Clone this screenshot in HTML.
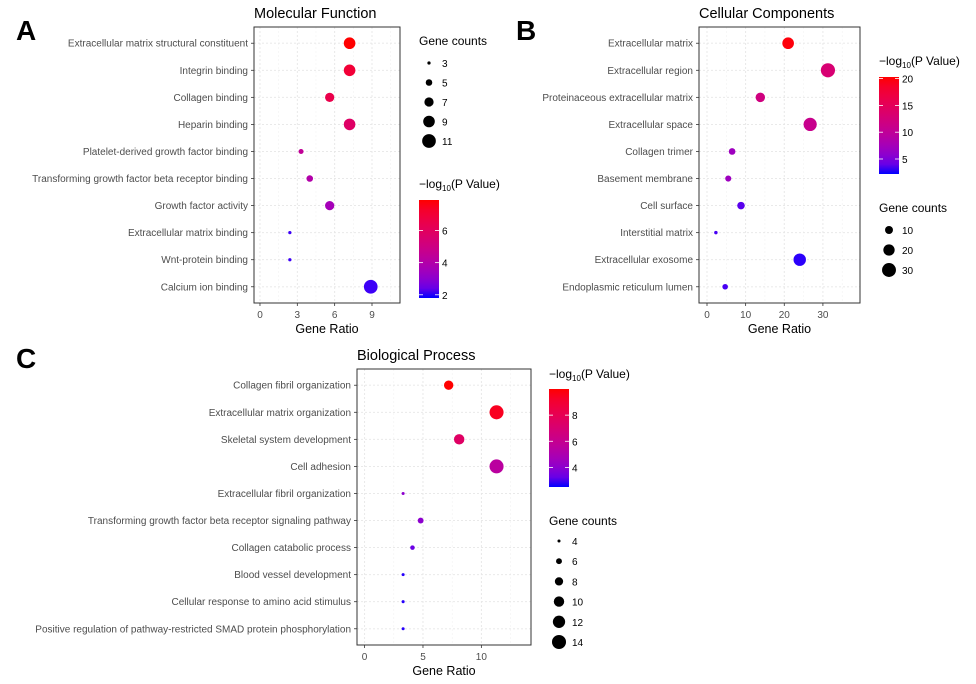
<!DOCTYPE html>
<html><head><meta charset="utf-8">
<style>
html,body{margin:0;padding:0;background:#fff;}
svg{display:block;font-family:"Liberation Sans",Arial,sans-serif;}
</style></head>
<body>
<svg id="fig" width="976" height="684" viewBox="0 0 976 684">
<text x="16" y="40" font-size="28" font-weight="bold" fill="#000">A</text>
<text x="516" y="40" font-size="28" font-weight="bold" fill="#000">B</text>
<text x="16" y="368" font-size="28" font-weight="bold" fill="#000">C</text>
</svg>
<script>
// ---- Panel A: Molecular Function ----
const mfTerms = ["Extracellular matrix structural constituent","Integrin binding","Collagen binding","Heparin binding","Platelet-derived growth factor binding","Transforming growth factor beta receptor binding","Growth factor activity","Extracellular matrix binding","Wnt-protein binding","Calcium ion binding"];
const mfRatio = [7.2,7.2,5.6,7.2,3.3,4.0,5.6,2.4,2.4,8.9];
const mfCount = [9,9,7,9,4,5,7,3,3,11];
const mfLogP = [7.9,7.0,6.5,5.8,4.5,4.0,3.6,2.0,2.0,2.0];
const mfXTicks = [0,3,6,9];
const mfCountBreaks = [3,5,7,9,11];
const mfColorBreaks = [2,4,6];

// ---- Panel B: Cellular Components ----
const ccTerms = ["Extracellular matrix","Extracellular region","Proteinaceous extracellular matrix","Extracellular space","Collagen trimer","Basement membrane","Cell surface","Interstitial matrix","Extracellular exosome","Endoplasmic reticulum lumen"];
const ccRatio = [21,31.3,13.8,26.7,6.5,5.5,8.8,2.3,24,4.7];
const ccCount = [21,31,14,27,7,6,9,2,24,5];
const ccLogP = [20,13,12,11,7,7,3.5,3,2.5,3];
const ccXTicks = [0,10,20,30];
const ccCountBreaks = [10,20,30];
const ccColorBreaks = [5,10,15,20];

// ---- Panel C: Biological Process ----
const bpTerms = ["Collagen fibril organization","Extracellular matrix organization","Skeletal system development","Cell adhesion","Extracellular fibril organization","Transforming growth factor beta receptor signaling pathway","Collagen catabolic process","Blood vessel development","Cellular response to amino acid stimulus","Positive regulation of pathway-restricted SMAD protein phosphorylation"];
const bpRatio = [7.2,11.3,8.1,11.3,3.3,4.8,4.1,3.3,3.3,3.3];
const bpCount = [9,14,10,14,4,6,5,4,4,4];
const bpLogP = [10,9.5,7.5,5.5,4,4,3.3,2.6,2.6,2.6];
const bpXTicks = [0,5,10];
const bpCountBreaks = [4,6,8,10,12,14];
const bpColorBreaks = [4,6,8];

const NS="http://www.w3.org/2000/svg";
const svg=document.getElementById('fig');
function mk(tag,attrs,parent,txt){const e=document.createElementNS(NS,tag);for(const k in attrs)e.setAttribute(k,attrs[k]);if(txt!==undefined)e.textContent=txt;(parent||svg).appendChild(e);return e;}

// Lab interpolation blue->red like ggplot
function srgb2lin(c){c/=255;return c<=0.04045?c/12.92:Math.pow((c+0.055)/1.055,2.4);}
function lin2srgb(c){c=c<=0.0031308?12.92*c:1.055*Math.pow(c,1/2.4)-0.055;return Math.max(0,Math.min(255,Math.round(c*255)));}
function toLab(r,g,b){r=srgb2lin(r);g=srgb2lin(g);b=srgb2lin(b);
 let X=(0.4124*r+0.3576*g+0.1805*b)/0.95047,Y=0.2126*r+0.7152*g+0.0722*b,Z=(0.0193*r+0.1192*g+0.9505*b)/1.08883;
 const f=t=>t>0.008856?Math.cbrt(t):7.787*t+16/116;
 return [116*f(Y)-16,500*(f(X)-f(Y)),200*(f(Y)-f(Z))];}
function fromLab(L,a,b){const fy=(L+16)/116,fx=fy+a/500,fz=fy-b/200;
 const fi=t=>t*t*t>0.008856?t*t*t:(t-16/116)/7.787;
 const X=fi(fx)*0.95047,Y=fi(fy),Z=fi(fz)*1.08883;
 const r=3.2406*X-1.5372*Y-0.4986*Z,g=-0.9689*X+1.8758*Y+0.0415*Z,bb=0.0557*X-0.2040*Y+1.0570*Z;
 return `rgb(${lin2srgb(r)},${lin2srgb(g)},${lin2srgb(bb)})`;}
const LB=toLab(0,0,255),LR=toLab(255,0,0);
function grad(t){t=Math.max(0,Math.min(1,t));return fromLab(LB[0]+(LR[0]-LB[0])*t,LB[1]+(LR[1]-LB[1])*t,LB[2]+(LR[2]-LB[2])*t);}

function panel(cfg){
 const g=mk('g',{},svg);
 
 
 const {x0,x1,y0,y1,dmin,dmax}=cfg;
 const xs=v=>x0+(v-dmin)/(dmax-dmin)*(x1-x0);
 const n=cfg.terms.length,step=(y1-y0)/(n-1+1.2);
 const ys=i=>y0+step*(0.6+i);
 const cs=v=>(v-cfg.cmin)/(cfg.cmax-cfg.cmin);
 const rs=c=>cfg.ra*Math.sqrt(c)+cfg.rb;
 mk('rect',{x:x0,y:y0,width:x1-x0,height:y1-y0,fill:'#fff'},g);
 // grid
 for(let k=0;k<cfg.ticks.length;k++){
  const t=cfg.ticks[k],st=cfg.ticks[1]-cfg.ticks[0];
  [t, t+st/2].forEach((v,j)=>{if(v>dmin&&v<dmax){const l=mk('line',{x1:xs(v),x2:xs(v),y1:y0,y2:y1,stroke:j?'#f2f2f2':'#e6e6e6','stroke-width':j?0.6:0.9,'stroke-dasharray':'2,2'},g);}});
 }
 cfg.terms.forEach((t,i)=>{const l=mk('line',{x1:x0,x2:x1,y1:ys(i),y2:ys(i),stroke:'#e6e6e6','stroke-width':0.9,'stroke-dasharray':'2,2'},g);
  });
 // points
 cfg.terms.forEach((t,i)=>{
  const c=mk('circle',{cx:xs(cfg.ratio[i]),cy:ys(i),r:rs(cfg.count[i]),fill:grad(cs(cfg.logp[i]))},g);
  
  
  const lab=mk('text',{x:x0-6,y:ys(i)+3.5,'text-anchor':'end','font-size':10,fill:'#4d4d4d'},g,t);
  
  
  mk('line',{x1:x0-3,x2:x0,y1:ys(i),y2:ys(i),stroke:'#333','stroke-width':0.8},g);
 });
 mk('rect',{x:x0,y:y0,width:x1-x0,height:y1-y0,fill:'none',stroke:'#333','stroke-width':1},g);
 cfg.ticks.forEach(v=>{
  mk('line',{x1:xs(v),x2:xs(v),y1:y1,y2:y1+3,stroke:'#333','stroke-width':0.8},g);
  const tl=mk('text',{x:xs(v),y:y1+15,'text-anchor':'middle','font-size':10,fill:'#4d4d4d'},g,String(v));
  
  
 });
 const xt=mk('text',{x:(x0+x1)/2,y:y1+30,'text-anchor':'middle','font-size':12.5,fill:'#000'},g,'Gene Ratio');
 
 
 const tt=mk('text',{x:x0,y:y0-9,'font-size':14.5,fill:'#000'},g,cfg.title);
 
 
 // color legend
 const cl=cfg.cleg;
 const ct=mk('text',{x:cl.x,y:cl.ty,'font-size':12,fill:'#000'},g);
 
 
 mk('tspan',{},ct,'\u2212log');
 mk('tspan',{'font-size':8,dy:3},ct,'10');
 mk('tspan',{dy:-3},ct,'(P Value)');
 const gid='g'+cfg.name;
 const lg=mk('linearGradient',{id:gid,x1:0,y1:1,x2:0,y2:0},mk('defs',{},g));
 for(let s=0;s<=10;s++)mk('stop',{offset:s/10,'stop-color':grad(s/10)},lg);
 const bar=mk('rect',{x:cl.x,y:cl.y0,width:20,height:cl.y1-cl.y0,fill:`url(#${gid})`},g);
 
 
 cfg.cbreaks.forEach(v=>{const yy=cl.y1-cs(v)*(cl.y1-cl.y0);
  mk('line',{x1:cl.x,x2:cl.x+4,y1:yy,y2:yy,stroke:'#fff','stroke-width':0.8},g);
  mk('line',{x1:cl.x+16,x2:cl.x+20,y1:yy,y2:yy,stroke:'#fff','stroke-width':0.8},g);
  const l=mk('text',{x:cl.x+23,y:yy+4,'font-size':10,fill:'#000'},g,String(v));
  });
 // size legend
 const sl=cfg.sleg;
 const st=mk('text',{x:sl.x,y:sl.ty,'font-size':12,fill:'#000'},g,'Gene counts');
 
 
 cfg.sbreaks.forEach((v,i)=>{const yy=sl.y+i*sl.dy;
  const c=mk('circle',{cx:sl.x+10,cy:yy,r:rs(v),fill:'#000'},g);
  
  const l=mk('text',{x:sl.x+23,y:yy+4,'font-size':10,fill:'#000'},g,String(v));
  });
}

panel({name:'molecular-function-panel',title:'Molecular Function',terms:mfTerms,ratio:mfRatio,count:mfCount,logp:mfLogP,ticks:mfXTicks,
 x0:254,x1:400,y0:27,y1:303,dmin:-0.48,dmax:11.25,cmin:1.8,cmax:7.9,ra:3.3,rb:-4.1,cbreaks:mfColorBreaks,sbreaks:mfCountBreaks,
 cleg:{x:419,ty:188,y0:200,y1:298},sleg:{x:419,ty:45,y:63,dy:19.5}});
panel({name:'cellular-components-panel',title:'Cellular Components',terms:ccTerms,ratio:ccRatio,count:ccCount,logp:ccLogP,ticks:ccXTicks,
 x0:699,x1:860,y0:27,y1:303,dmin:-2.07,dmax:39.6,cmin:2.2,cmax:20.3,ra:1.29,rb:-0.1,cbreaks:ccColorBreaks,sbreaks:ccCountBreaks,
 cleg:{x:879,ty:65,y0:77,y1:174},sleg:{x:879,ty:212,y:230,dy:20}});
panel({name:'biological-process-panel',title:'Biological Process',terms:bpTerms,ratio:bpRatio,count:bpCount,logp:bpLogP,ticks:bpXTicks,
 x0:357,x1:531,y0:369,y1:645,dmin:-0.65,dmax:14.25,cmin:2.5,cmax:10,ra:3.16,rb:-4.8,cbreaks:bpColorBreaks,sbreaks:bpCountBreaks,
 cleg:{x:549,ty:378,y0:389,y1:487},sleg:{x:549,ty:525,y:541,dy:20.2}});
</script>
</body></html>
